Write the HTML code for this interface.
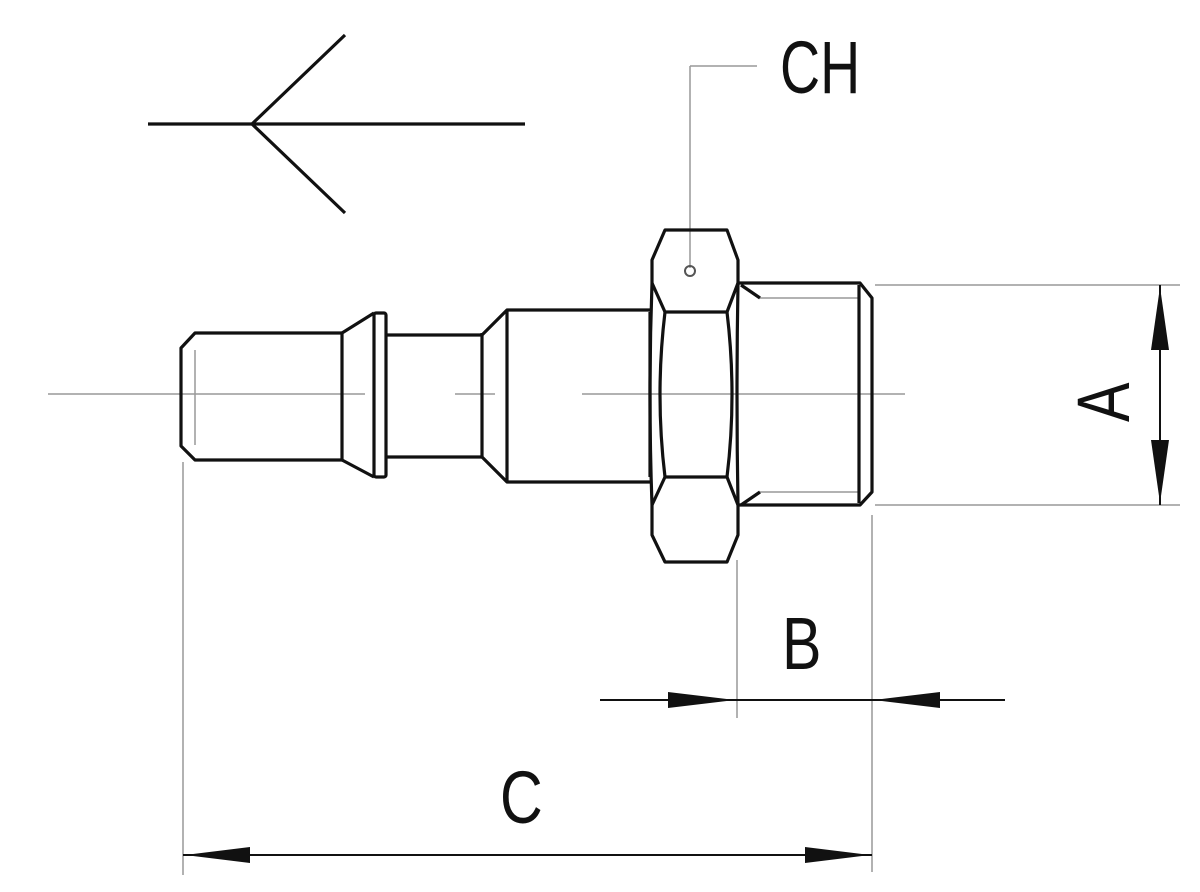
<!DOCTYPE html>
<html><head><style>html,body{margin:0;padding:0;background:#fff}svg{display:block}</style></head><body>
<svg width="1200" height="892" viewBox="0 0 1200 892" xmlns="http://www.w3.org/2000/svg">
<g stroke="#999" stroke-width="1.5" fill="none">
<line x1="48" y1="394" x2="365" y2="394"/>
<line x1="455" y1="394" x2="495" y2="394"/>
<line x1="582" y1="394" x2="905" y2="394"/>
<line x1="690" y1="66" x2="757" y2="66"/>
<line x1="690" y1="66" x2="690" y2="268"/>
<line x1="875" y1="285" x2="1180" y2="285"/>
<line x1="875" y1="505" x2="1180" y2="505"/>
<line x1="737" y1="560" x2="737" y2="718"/>
<line x1="872" y1="515" x2="872" y2="872"/>
<line x1="183" y1="462" x2="183" y2="875"/>
<line x1="195" y1="350" x2="195" y2="445"/>
<line x1="760" y1="298" x2="858" y2="298"/>
<line x1="760" y1="492" x2="858" y2="492"/>
</g>
<g stroke="#111" stroke-width="2" fill="none">
<line x1="1160" y1="285" x2="1160" y2="505"/>
<line x1="600" y1="700" x2="1005" y2="700"/>
<line x1="183" y1="855" x2="872" y2="855"/>
</g>
<g fill="#111">
<polygon points="1160,287 1151,350 1169,350"/>
<polygon points="1160,503 1151,440 1169,440"/>
<polygon points="735,700 668,692 668,708"/>
<polygon points="874,700 940,692 940,708"/>
<polygon points="185,855 250,847 250,863"/>
<polygon points="870,855 805,847 805,863"/>
</g>
<g stroke="#111" stroke-width="3.2" fill="none" stroke-linejoin="round">
<line x1="148" y1="124" x2="525" y2="124"/>
<polyline points="345,35 252,124 345,213"/>
<path d="M342,333 L195,333 L181,348 L181,446 L195,460 L342,460 Z"/>
<path d="M342,333 L374,313 M342,460 L374,477"/>
<rect x="374" y="313" width="12" height="164" rx="2"/>
<line x1="386" y1="335" x2="482" y2="335"/>
<line x1="386" y1="457" x2="482" y2="457"/>
<line x1="482" y1="333" x2="482" y2="458"/>
<path d="M482,335 L507,310 L650,310 M482,457 L507,482 L650,482"/>
<line x1="507" y1="310" x2="507" y2="482"/>
<path d="M650,312 L650,477"/>
<path d="M665,230 L727,230 L738,260 L738,283 Q736,395 738,505 L738,535 L727,562 L665,562 L652,535 L652,505 Q648,395 652,283 L652,260 Z"/>
<path d="M652,283 L665,312 L727,312 L738,283"/>
<path d="M652,505 L665,477 L727,477 L738,505"/>
<path d="M665,312 Q655,395 665,477 M727,312 Q737,395 727,477"/>
<path d="M739,283 L860,283 L872,298 L872,492 L860,505 L739,505"/>
<line x1="859" y1="285" x2="859" y2="503"/>
<line x1="741" y1="285" x2="760" y2="298"/>
<line x1="741" y1="505" x2="760" y2="492"/>
</g>
<circle cx="690" cy="271" r="5" stroke="#555" stroke-width="2" fill="none"/>
<g font-family="'Liberation Sans',sans-serif" fill="#111" font-size="74">
<text x="0" y="0" transform="translate(780,93) scale(0.75,1)">CH</text>
<text x="0" y="0" transform="translate(782,669) scale(0.8,1)">B</text>
<text x="0" y="0" transform="translate(500,823) scale(0.8,1)">C</text>
<text x="0" y="0" transform="translate(1129,422) rotate(-90) scale(0.8,1)">A</text>
</g>
</svg>
</body></html>
